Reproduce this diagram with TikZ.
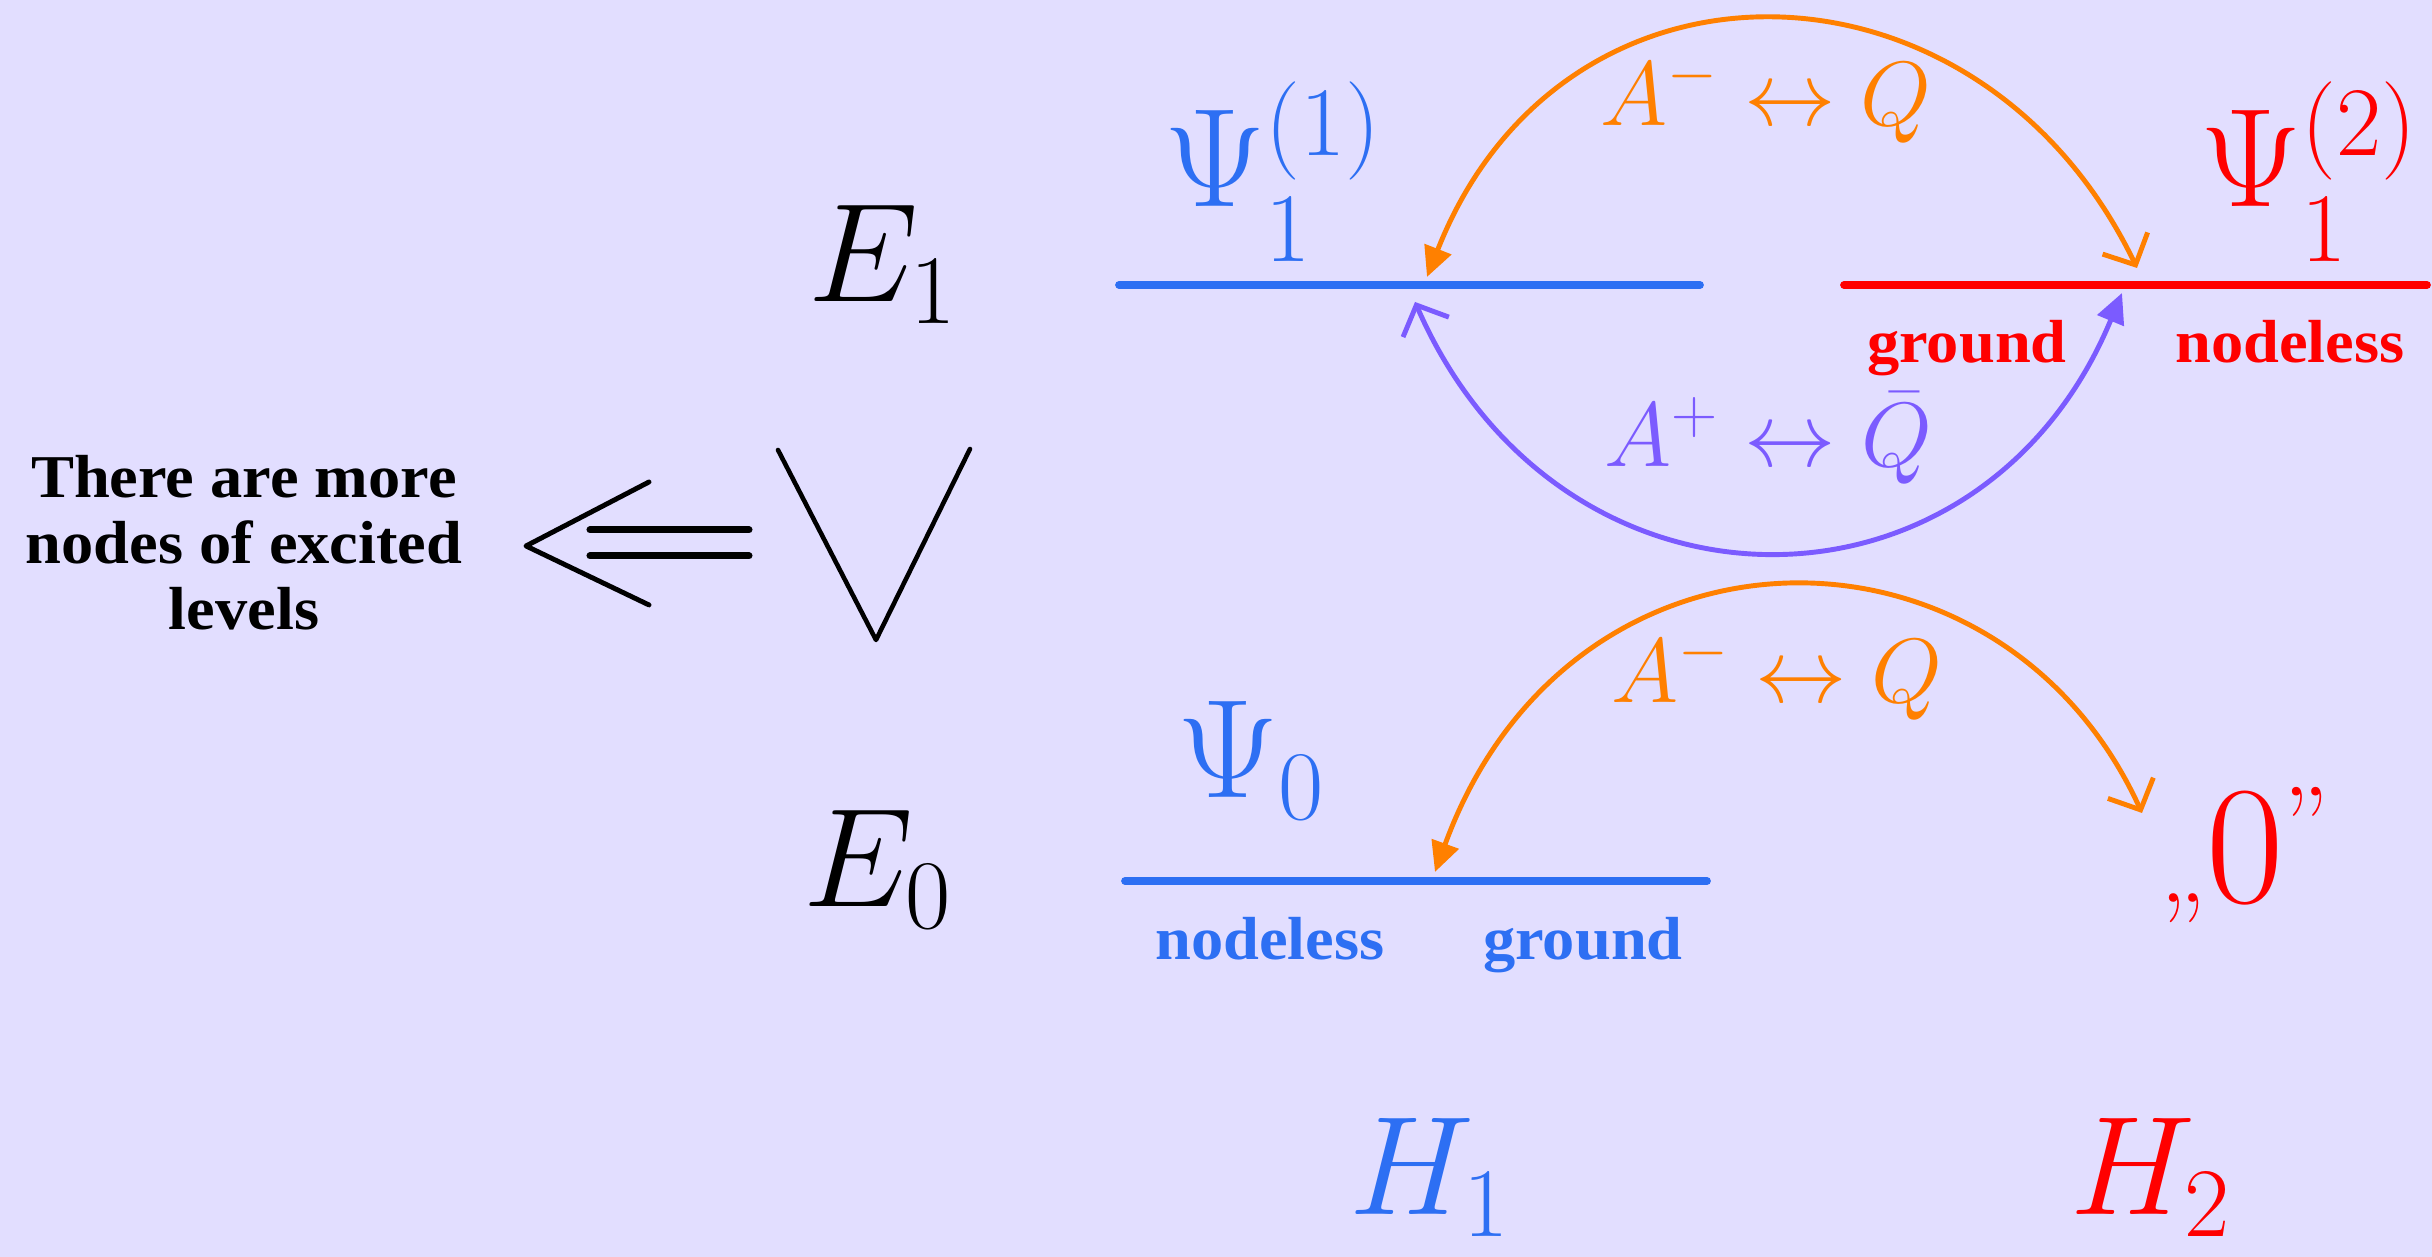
\RequirePackage{fix-cm}
\documentclass[tikz,border=0pt]{standalone}
\usepackage{fontspec}
\newfontfamily\lblfont[FakeStretch=1.06]{Liberation Serif}
\usepackage{xcolor}
\definecolor{bg1}{HTML}{E2DEFF}
\definecolor{blue1}{HTML}{2D6FF3}
\definecolor{red1}{HTML}{FF0000}
\definecolor{orange1}{HTML}{FF8000}
\definecolor{purple1}{HTML}{7B5BFF}
\usetikzlibrary{arrows.meta}
\newcommand{\lowsub}[1]{\lower0.2cm\hbox{$\scriptstyle #1$}}

\begin{document}
\begin{tikzpicture}[
  lvl/.style={line width=2.2pt,line cap=round},
  sym/.style={inner sep=0pt,anchor=base west,font=\fontsize{40}{48}\selectfont},
  tag/.style={inner sep=0pt,anchor=base,font=\lblfont\bfseries\fontsize{17.3}{18.8}\selectfont},
  hop/.style={line width=1.4pt,
              {Triangle[length=3mm,width=2.8mm]}-{Straight Barb[length=2.4mm,width=5mm]}},
  lab/.style={inner sep=0pt,anchor=base,font=\fontsize{26}{30}\selectfont},
  stroke/.style={line width=1.4pt,line cap=round,line join=round},
]
  \useasboundingbox (0,0) rectangle (24.32,12.57);
  \fill[bg1] (0,0) rectangle (24.32,12.57);

  % left remark, implication and "greater than"
  \node[inner sep=0pt,align=center,font=\lblfont\bfseries\fontsize{17.3}{18.8}\selectfont]
    (more) at (2.44,7.14) {There are more\\nodes of excited\\levels};
  \coordinate (tip) at (5.26,7.11);
  \draw[stroke] (6.49,7.75) -- (tip) -- (6.49,6.52);
  \draw[stroke,line width=2pt] (5.90,7.27) -- (7.49,7.27);
  \draw[stroke,line width=2pt] (5.90,7.01) -- (7.49,7.01);
  \draw[stroke,line width=1.3pt] (7.78,8.07) -- (8.76,6.17) -- (9.70,8.08);

  \node[sym] (e1) at (8.08,9.55) {$E_1$};
  \node[sym] (e0) at (8.03,3.50) {$E_0$};

  % energy levels
  \coordinate (a1) at (11.19,9.72); \coordinate (a2) at (17.00,9.72);
  \coordinate (b1) at (18.44,9.72); \coordinate (b2) at (24.27,9.72);
  \coordinate (c1) at (11.25,3.76); \coordinate (c2) at (17.07,3.76);
  \draw[lvl,blue1] (a1) -- (a2);
  \draw[lvl,red1]  (b1) -- (b2);
  \draw[lvl,blue1] (c1) -- (c2);

  \node[sym,blue1] (psiA) at (11.64,10.50) {$\Psi^{(1)}_{\lowsub{1}}$};
  \node[sym,red1]  (psiB) at (22.00,10.50) {$\Psi^{(2)}_{\lowsub{1}}$};
  \node[sym,blue1] (psiC) at (11.77,4.59)  {$\Psi_0$};

  \node[tag,red1]  (gB) at (19.67,8.94) {ground};
  \node[tag,red1]  (nB) at (22.90,8.94) {nodeless};
  \node[tag,blue1] (nC) at (12.70,2.97) {nodeless};
  \node[tag,blue1] (gC) at (15.83,2.97) {ground};

  \node[sym,red1,font=\fontsize{48}{56}\selectfont] (zero) at (21.60,3.54)
    {{\fontsize{30}{36}\selectfont „}0\raisebox{0.42cm}{\fontsize{30}{36}\selectfont ”}};

  % transitions
  \coordinate (p1) at (14.27,9.80); \coordinate (q1) at (21.37,9.89);
  \coordinate (q2) at (21.22,9.64); \coordinate (p2) at (14.15,9.55);
  \coordinate (p3) at (14.35,3.85); \coordinate (q3) at (21.42,4.44);
  \draw[hop,orange1] (p1) .. controls (15.63,13.25) and (19.8,13.15) .. (q1);
  \draw[hop,purple1] (q2) .. controls (19.8,6.22) and (15.6,6.22) .. (p2);
  \draw[hop,orange1] (p3) .. controls (15.7,7.55) and (20.0,7.55) .. (q3);

  \node[lab,orange1] (lA) at (17.66,11.31) {$A^-\leftrightarrow Q$};
  \node[lab,purple1] (lB) at (17.68,7.90)  {$A^+\leftrightarrow \bar{Q}$};
  \node[lab,orange1] (lC) at (17.77,5.54)  {$A^-\leftrightarrow Q$};

  \node[sym,blue1] (h1) at (13.49,0.42) {$H_1$};
  \node[sym,red1]  (h2) at (20.70,0.42) {$H_2$};
\end{tikzpicture}
\end{document}
